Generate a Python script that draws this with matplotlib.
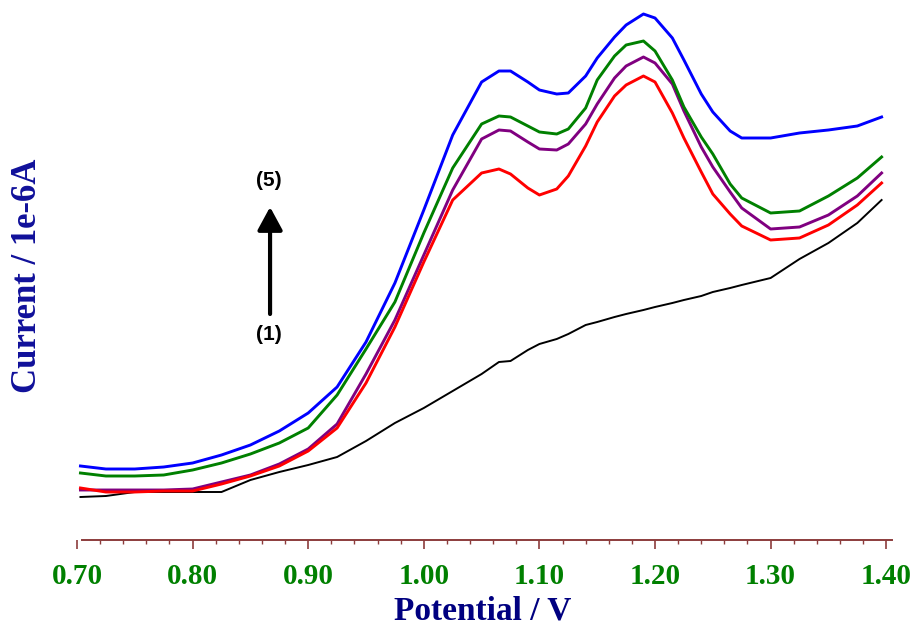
import matplotlib
matplotlib.use("Agg")
import matplotlib.pyplot as plt
from matplotlib.ticker import MultipleLocator


# potential grid (V) shared by all five voltammograms
potential = [
    0.703, 0.725, 0.75, 0.775, 0.80, 0.825, 0.85, 0.875, 0.90, 0.925,
    0.95, 0.975, 1.00, 1.025, 1.05, 1.065, 1.075, 1.09, 1.10, 1.115,
    1.125, 1.14, 1.15, 1.165, 1.175, 1.19, 1.20, 1.215, 1.225, 1.24,
    1.25, 1.265, 1.275, 1.30, 1.325, 1.35, 1.375, 1.396,
]

# current (arbitrary offset, 1e-6 A)
current_1 = [
    0.43, 0.44, 0.48, 0.48, 0.48, 0.48, 0.60, 0.68, 0.75, 0.83,
    0.99, 1.17, 1.32, 1.49, 1.66, 1.78, 1.79, 1.90, 1.96, 2.01,
    2.06, 2.15, 2.18, 2.23, 2.26, 2.30, 2.33, 2.37, 2.40, 2.44,
    2.48, 2.52, 2.55, 2.62, 2.81, 2.97, 3.17, 3.40,
]
current_2 = [
    0.52, 0.48, 0.48, 0.49, 0.49, 0.56, 0.64, 0.74, 0.89, 1.12,
    1.57, 2.13, 2.78, 3.40, 3.67, 3.71, 3.66, 3.52, 3.45, 3.51,
    3.64, 3.94, 4.18, 4.44, 4.55, 4.64, 4.58, 4.27, 4.02, 3.68,
    3.46, 3.26, 3.14, 3.00, 3.02, 3.15, 3.35, 3.57,
]
current_3 = [
    0.50, 0.50, 0.50, 0.50, 0.51, 0.58, 0.65, 0.76, 0.91, 1.16,
    1.66, 2.20, 2.85, 3.50, 4.01, 4.10, 4.09, 3.98, 3.91, 3.90,
    3.96, 4.16, 4.36, 4.62, 4.74, 4.83, 4.77, 4.56, 4.29, 3.93,
    3.73, 3.48, 3.32, 3.11, 3.13, 3.25, 3.44, 3.67,
]
current_4 = [
    0.67, 0.64, 0.64, 0.65, 0.70, 0.77, 0.86, 0.97, 1.12, 1.45,
    1.91, 2.38, 3.07, 3.72, 4.16, 4.24, 4.23, 4.14, 4.08, 4.06,
    4.11, 4.32, 4.60, 4.84, 4.95, 4.99, 4.89, 4.60, 4.33, 4.03,
    3.86, 3.56, 3.42, 3.27, 3.29, 3.44, 3.62, 3.83,
]
current_5 = [
    0.74, 0.71, 0.71, 0.73, 0.77, 0.85, 0.95, 1.09, 1.27, 1.53,
    1.98, 2.57, 3.30, 4.05, 4.58, 4.69, 4.69, 4.58, 4.50, 4.46,
    4.47, 4.64, 4.82, 5.03, 5.15, 5.26, 5.22, 5.02, 4.80, 4.46,
    4.28, 4.09, 4.02, 4.02, 4.07, 4.10, 4.14, 4.23,
]

x_ticks = [0.70, 0.80, 0.90, 1.00, 1.10, 1.20, 1.30, 1.40]

AXIS_COLOR = "#8c3c3c"
SERIF = ["Liberation Serif", "DejaVu Serif"]


def main() -> None:
    fig = plt.figure(figsize=(9.12, 6.25), dpi=100)
    ax = fig.add_axes([77 / 912, 85 / 625, 815 / 912, 540 / 625])

    ax.plot(potential, current_1, color="black", lw=1.4)
    ax.plot(potential, current_3, color="#800080", lw=2.1)
    ax.plot(potential, current_2, color="#ff0000", lw=2.1)
    ax.plot(potential, current_4, color="#008000", lw=2.1)
    ax.plot(potential, current_5, color="#0000ff", lw=2.1)

    ax.set_xlim(0.70, 1.405)
    ax.set_ylim(0, 5.40)

    for side in ["top", "left", "right"]:
        ax.spines[side].set_visible(False)
    ax.spines["bottom"].set_color(AXIS_COLOR)
    ax.spines["bottom"].set_linewidth(1.4)
    ax.spines["bottom"].set_bounds(0.704, 1.405)

    ax.set_yticks([])
    ax.set_xticks(x_ticks)
    ax.set_xticklabels([f"{t:.2f}" for t in x_ticks])
    ax.xaxis.set_minor_locator(MultipleLocator(0.02))
    ax.tick_params(axis="x", which="major", length=6.5, width=1.2,
                   color=AXIS_COLOR, pad=10, labelsize=21,
                   labelcolor="#008000")
    ax.tick_params(axis="x", which="minor", length=3, width=1.0,
                   color=AXIS_COLOR)
    for lab in ax.get_xticklabels():
        lab.set_family(SERIF)
        lab.set_fontweight("bold")

    fig.text(483 / 912, 6 / 625, "Potential / V", ha="center", va="baseline",
             family=SERIF, fontweight="bold", fontsize=24, color="#000080")
    fig.text(28 / 912, (625 - 276) / 625, "Current / 1e-6A", rotation=90,
             ha="center", va="center", family=SERIF, fontweight="bold",
             fontsize=25, color="#10109a")

    # arrow from curve (1) to curve (5)
    ax.annotate("", xy=(0.867, 3.33), xytext=(0.867, 2.26),
                arrowprops=dict(arrowstyle="-|>,head_length=0.7,head_width=0.38",
                                lw=3, color="black", shrinkA=0, shrinkB=0,
                                mutation_scale=20))
    ax.text(0.866, 3.59, "(5)", ha="center", va="center", fontsize=15,
            fontweight="bold", family=["Liberation Sans", "DejaVu Sans"])
    ax.text(0.866, 2.06, "(1)", ha="center", va="center", fontsize=15,
            fontweight="bold", family=["Liberation Sans", "DejaVu Sans"])

    fig.savefig("out.png", dpi=100)
    plt.close(fig)


if __name__ == "__main__":
    main()
